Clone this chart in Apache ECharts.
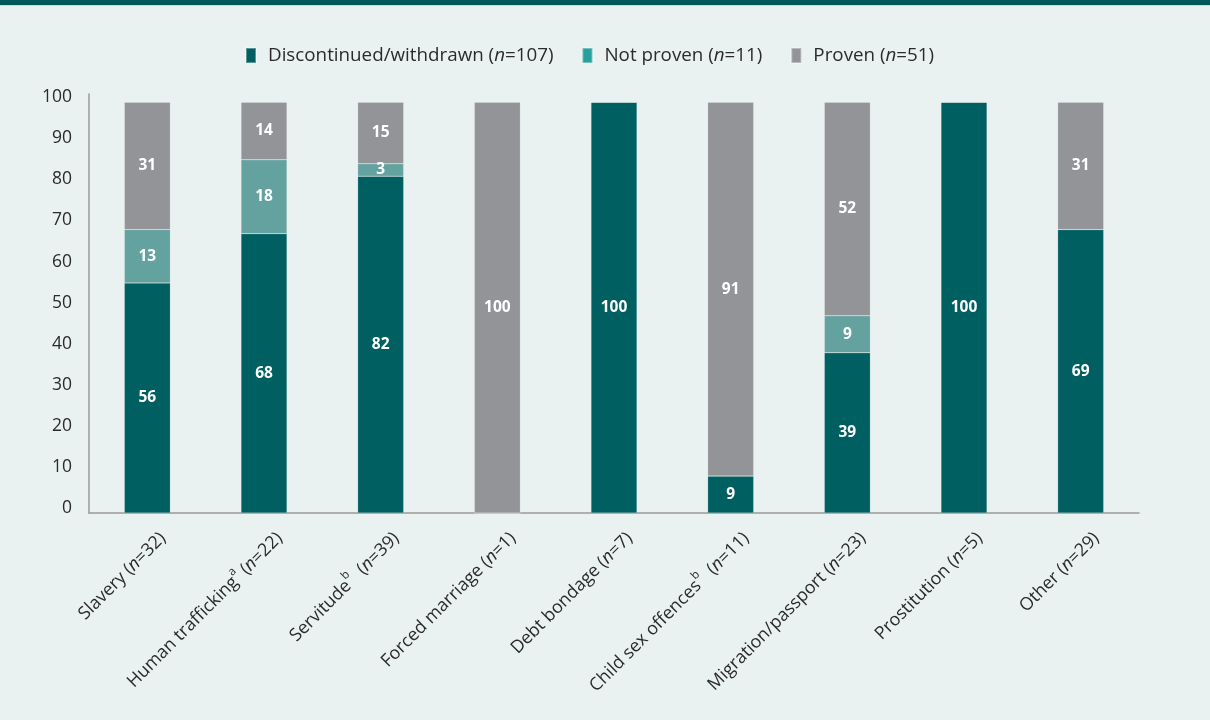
<!DOCTYPE html>
<html><head><meta charset="utf-8">
<script src="https://cdn.jsdelivr.net/npm/echarts@6/dist/echarts.min.js"></script>
<style>html,body{margin:0;padding:0;background:#e9f2f0;}#c{width:1210px;height:720px;}</style>
</head><body><div id="c"></div>
<script>
const categories = [
  'Slavery ({i|n}=32)',
  'Human trafficking{sup|a} ({i|n}=22)',
  'Servitude{sup|b}  ({i|n}=39)',
  'Forced marriage ({i|n}=1)',
  'Debt bondage ({i|n}=7)',
  'Child sex offences{sup|b}  ({i|n}=11)',
  'Migration/passport ({i|n}=23)',
  'Prostitution ({i|n}=5)',
  'Other ({i|n}=29)'
];
const discontinued = [56, 68, 82, 0, 100, 9, 39, 100, 69];
const notProven    = [13, 18, 3, 0, 0, 0, 9, 0, 0];
const proven       = [31, 14, 15, 100, 0, 91, 52, 0, 31];
const seriesNames = ['Discontinued/withdrawn', 'Not proven', 'Proven'];
const seriesN = [107, 11, 51];
const yTicks = [0, 10, 20, 30, 40, 50, 60, 70, 80, 90, 100];

const FONT = '"Open Sans", Lato, sans-serif';
const TXT = '#2b2b2b';
const colors = ['#005f61', '#64a2a0', '#939498'];
const legendColors = ['#005f61', '#28a09d', '#939498'];

const chart = echarts.init(document.getElementById('c'), null, {renderer: 'canvas'});
const label = {
  show: true, position: 'inside', color: '#ffffff', fontFamily: FONT,
  fontWeight: 'bold', fontSize: 15.5,
  formatter: p => (p.value ? String(p.value) : '')
};
const datasets = [discontinued, notProven, proven];
const XLH = 44;
const LF = 18.8;
chart.setOption({
  backgroundColor: '#e9f2f0',
  animation: false,
  graphic: [
    {type: 'rect', left: 0, top: 0, shape: {width: 1210, height: 5}, style: {fill: '#005a5b'}},
    {type: 'rect', left: 0, top: 5, shape: {width: 1210, height: 1}, style: {fill: '#c9dcd8'}}
  ],
  legend: {
    top: 41, left: 240, itemWidth: 10, itemHeight: 15, itemGap: 28,
    icon: 'rect',
    textStyle: {fontFamily: FONT, fontSize: LF, color: TXT,
      rich: {
        t: {fontFamily: FONT, fontSize: LF, color: TXT, padding: [0, 0, 0, 7]},
        r: {fontFamily: FONT, fontSize: LF, color: TXT},
        i: {fontFamily: FONT, fontSize: LF, fontStyle: 'italic', color: TXT}
      }},
    formatter: name => {
      const k = seriesNames.indexOf(name);
      return '{t|' + name + ' (}{i|n}{r|=' + seriesN[k] + ')}';
    },
    data: seriesNames.map((n, k) => ({name: n, itemStyle: {color: legendColors[k]}}))
  },
  grid: {left: 89, right: 71, top: 94, bottom: 207, containLabel: false},
  xAxis: {
    type: 'category', data: categories,
    axisLine: {show: true, lineStyle: {color: '#9a9a9a', width: 1.5}},
    axisTick: {show: false},
    axisLabel: {
      rotate: 45, interval: 0, margin: 7,
      verticalAlign: 'top', lineHeight: XLH,
      fontFamily: FONT, fontSize: 17.8, color: TXT,
      rich: {
        i: {fontFamily: FONT, fontSize: 17.8, fontStyle: 'italic', color: TXT, lineHeight: XLH},
        sup: {fontFamily: FONT, fontSize: 11.5, color: TXT, lineHeight: XLH, padding: [0, 0, 16, 0]}
      }
    }
  },
  yAxis: {
    type: 'value', min: 0, max: 102, interval: 10,
    axisLine: {show: true, lineStyle: {color: '#9a9a9a', width: 1.5}},
    axisTick: {show: false},
    splitLine: {show: false},
    axisLabel: {
      showMaxLabel: false, margin: 17,
      fontFamily: FONT, fontSize: 17.5, color: TXT,
      rich: {v: {fontFamily: FONT, fontSize: 17.5, color: TXT, padding: [0, 0, 10, 0]}},
      formatter: v => (yTicks.indexOf(v) >= 0 ? '{v|' + v + '}' : '')
    }
  },
  series: seriesNames.map((n, k) => ({
    name: n, type: 'bar', stack: 'total', barWidth: 46,
    itemStyle: {color: colors[k], borderColor: 'rgba(255,255,255,0.35)', borderWidth: 0.5},
    label: label,
    data: datasets[k]
  }))
});
</script></body></html>
